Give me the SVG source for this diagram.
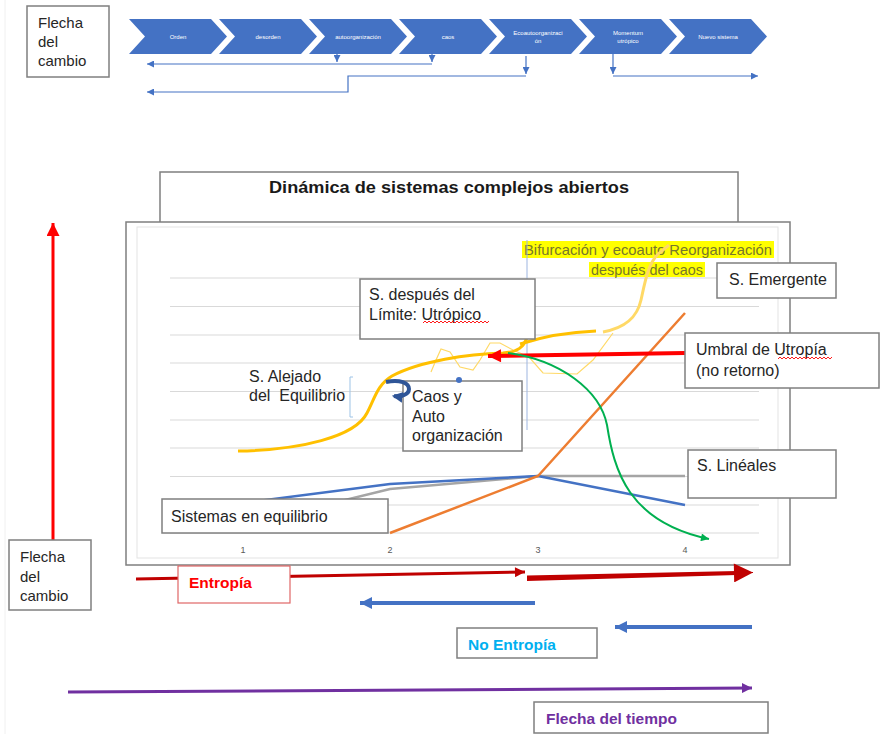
<svg xmlns="http://www.w3.org/2000/svg" width="884" height="734" viewBox="0 0 884 734">
<style>
text{font-family:"Liberation Sans",Arial,sans-serif;fill:#262626}
.box{fill:#fff;stroke:#7f7f7f;stroke-width:1.5}
.chev{fill:#4472C4}
.ct{font-size:6px;fill:#fff;text-anchor:middle}
.lbl{font-size:16px}
.grid{stroke:#d9d9d9;stroke-width:1}
.ax{font-size:9px;fill:#595959;text-anchor:middle}
.tcon{fill:none;stroke:#4472C4;stroke-width:1.2}
.wavy{fill:none;stroke:#FF0000;stroke-width:0.9}
.bt{font-size:15.5px;font-weight:bold}
</style>
<defs>
<marker id="mTop" viewBox="0 0 10 10" refX="10" refY="5" markerWidth="8" markerHeight="7" markerUnits="userSpaceOnUse" orient="auto"><path d="M0,0L10,5L0,10Z" fill="#4472C4"/></marker>
<marker id="mRed" viewBox="0 0 10 10" refX="10" refY="5" markerWidth="14" markerHeight="13" markerUnits="userSpaceOnUse" orient="auto"><path d="M0,0L10,5L0,10Z" fill="#FF0000"/></marker>
<marker id="mDred" viewBox="0 0 10 10" refX="10" refY="5" markerWidth="12" markerHeight="10" markerUnits="userSpaceOnUse" orient="auto"><path d="M0,0L10,5L0,10Z" fill="#C00000"/></marker>
<marker id="mDredBig" viewBox="0 0 10 10" refX="10" refY="5" markerWidth="20" markerHeight="19" markerUnits="userSpaceOnUse" orient="auto"><path d="M0,0L10,5L0,10Z" fill="#C00000"/></marker>
<marker id="mBlue" viewBox="0 0 10 10" refX="10" refY="5" markerWidth="14" markerHeight="12" markerUnits="userSpaceOnUse" orient="auto"><path d="M0,0L10,5L0,10Z" fill="#4472C4"/></marker>
<marker id="mPurple" viewBox="0 0 10 10" refX="10" refY="5" markerWidth="12" markerHeight="10" markerUnits="userSpaceOnUse" orient="auto"><path d="M0,0L10,5L0,10Z" fill="#7030A0"/></marker>
<marker id="mGreen" viewBox="0 0 10 10" refX="10" refY="5" markerWidth="9" markerHeight="8" markerUnits="userSpaceOnUse" orient="auto"><path d="M0,0L10,5L0,10Z" fill="#00B050"/></marker>
<marker id="mNavy" viewBox="0 0 10 10" refX="8" refY="5" markerWidth="11" markerHeight="12" markerUnits="userSpaceOnUse" orient="auto"><path d="M0,0L10,5L0,10Z" fill="#2F5597"/></marker>
</defs>
<rect width="884" height="734" fill="#fff"/>
<line x1="5" y1="0" x2="5" y2="734" stroke="#f0f0f0" stroke-width="1"/>

<!-- top process chevrons -->
<g id="flecha-top"><rect class="box" x="27" y="6" width="82" height="71"/><text x="38" y="28" style="font-size:15px">Flecha</text><text x="38" y="47" style="font-size:15px">del</text><text x="38" y="66" style="font-size:15px">cambio</text></g>
<g id="chev-orden"><path class="chev" d="M129,19H211L227,36.5L211,54H129L145,36.5Z"/><text class="ct" x="178" y="39">Orden</text></g>
<g id="chev-desorden"><path class="chev" d="M219,19H301L317,36.5L301,54H219L235,36.5Z"/><text class="ct" x="268" y="39">desorden</text></g>
<g id="chev-autoorg"><path class="chev" d="M309,19H391L407,36.5L391,54H309L325,36.5Z"/><text class="ct" x="358" y="39">autoorganización</text></g>
<g id="chev-caos"><path class="chev" d="M399,19H481L497,36.5L481,54H399L415,36.5Z"/><text class="ct" x="448" y="39">caos</text></g>
<g id="chev-ecoauto"><path class="chev" d="M489,19H571L587,36.5L571,54H489L505,36.5Z"/><text class="ct" x="538" y="35">Ecoautoorganizaci</text><text class="ct" x="538" y="43">ón</text></g>
<g id="chev-momentum"><path class="chev" d="M579,19H661L677,36.5L661,54H579L595,36.5Z"/><text class="ct" x="628" y="35">Momentum</text><text class="ct" x="628" y="43">utrópico</text></g>
<g id="chev-nuevo"><path class="chev" d="M669,19H751L767,36.5L751,54H669L685,36.5Z"/><text class="ct" x="718" y="39">Nuevo sistema</text></g>

<g id="top-connectors">
<line class="tcon" x1="337" y1="54" x2="337" y2="62" marker-end="url(#mTop)"/>
<line class="tcon" x1="432" y1="54" x2="432" y2="62" marker-end="url(#mTop)"/>
<line class="tcon" x1="432" y1="64" x2="147" y2="64" marker-end="url(#mTop)"/>
<line class="tcon" x1="526" y1="56" x2="526" y2="74" marker-end="url(#mTop)"/>
<polyline class="tcon" points="526,76 348,76 348,92 147,92" marker-end="url(#mTop)"/>
<line class="tcon" x1="613" y1="54" x2="613" y2="74" marker-end="url(#mTop)"/>
<line class="tcon" x1="613" y1="76" x2="758" y2="76" marker-end="url(#mTop)"/>
</g>

<!-- chart -->
<g id="title"><rect class="box" x="160" y="172" width="578" height="60"/><text x="449" y="193" text-anchor="middle" textLength="360" lengthAdjust="spacingAndGlyphs" style="font-size:17px;font-weight:bold;fill:#1a1a1a">Dinámica de sistemas complejos abiertos</text></g>
<g id="chart-frame">
<rect x="126" y="222" width="664" height="343" fill="#fff" stroke="#7f7f7f" stroke-width="1.5"/>
<rect x="137" y="227" width="641" height="331" fill="none" stroke="#e3e3e3" stroke-width="1"/>
<g>
<line class="grid" x1="170" y1="278" x2="759" y2="278"/>
<line class="grid" x1="170" y1="306.5" x2="759" y2="306.5"/>
<line class="grid" x1="170" y1="335" x2="759" y2="335"/>
<line class="grid" x1="170" y1="363" x2="759" y2="363"/>
<line class="grid" x1="170" y1="391.5" x2="759" y2="391.5"/>
<line class="grid" x1="170" y1="420" x2="759" y2="420"/>
<line class="grid" x1="170" y1="448" x2="759" y2="448"/>
<line class="grid" x1="170" y1="476.5" x2="759" y2="476.5"/>
<line class="grid" x1="170" y1="505" x2="759" y2="505"/>
<line class="grid" x1="170" y1="533" x2="759" y2="533"/>
</g>
<text class="ax" x="243" y="553">1</text><text class="ax" x="390" y="553">2</text><text class="ax" x="538" y="553">3</text><text class="ax" x="685" y="553">4</text>
</g>

<g id="bifurcacion">
<rect x="522" y="241" width="252" height="17" fill="#FFFF00"/>
<rect x="589" y="262" width="116" height="15" fill="#FFFF00"/>
<text x="648" y="255" text-anchor="middle" textLength="248" lengthAdjust="spacingAndGlyphs" style="font-size:14.5px;fill:#77772a">Bifurcación y ecoauto Reorganización</text>
<text x="647" y="275" text-anchor="middle" textLength="112" lengthAdjust="spacingAndGlyphs" style="font-size:14.5px;fill:#77772a">después del caos</text>
</g>

<g id="series">
<polyline points="243,525 390,489 538,476 685,476" fill="none" stroke="#A5A5A5" stroke-width="2.5"/>
<polyline points="243,503 390,484 538,476 685,505" fill="none" stroke="#4472C4" stroke-width="2.5"/>
<polyline points="390,533 538,476 685,313" fill="none" stroke="#ED7D31" stroke-width="2.5"/>
<line x1="527" y1="240" x2="527" y2="430" stroke="#9DB5E0" stroke-width="1"/>
<path d="M353,377H350V417H353" fill="none" stroke="#9DC3E6" stroke-width="1"/>
<polyline points="431,372 436,360 441,349 450,352 460,367 473,370 480,360 490,343 500,343 513,350 529,357 543,373 577,374 593,360 613,333" fill="none" stroke="#FFD966" stroke-width="1.2"/>
<path d="M238,451C300,450 355,437 367,413C375,398 377,385 392,376C420,361 468,354 503,353C518,352 524,347 527,337" fill="none" stroke="#FFC000" stroke-width="3"/>
<path d="M520,344C545,336 570,332 596,331" fill="none" stroke="#FFC000" stroke-width="3"/>
<path d="M603,332C625,328 637,318 641,300C645,282 648,264 658,254L669,245" fill="none" stroke="#FFD966" stroke-width="3"/>
</g>

<g id="s-despues"><rect class="box" x="360" y="279" width="175" height="60"/><text class="lbl" x="369" y="300">S. después del</text><text class="lbl" x="369" y="320">Límite: Utrópico</text><path class="wavy" d="M423,323l2,-2l2,2l2,-2l2,2l2,-2l2,2l2,-2l2,2l2,-2l2,2l2,-2l2,2l2,-2l2,2l2,-2l2,2l2,-2l2,2l2,-2l2,2l2,-2l2,2l2,-2l2,2l2,-2l2,2l2,-2l2,2l2,-2l2,2l2,-2l2,2l2,-2"/></g>

<g id="connectors">
<line x1="685" y1="353" x2="488" y2="356" stroke="#FF0000" stroke-width="4" marker-end="url(#mRed)"/>
<path d="M508,353C560,360 600,390 607,425C614,470 628,522 709,539" fill="none" stroke="#00B050" stroke-width="2" marker-end="url(#mGreen)"/>
<line x1="53" y1="540" x2="53" y2="223" stroke="#FF0000" stroke-width="3" marker-end="url(#mRed)"/>
<line x1="136" y1="579" x2="525" y2="572" stroke="#C00000" stroke-width="3" marker-end="url(#mDred)"/>
<path d="M527,575.5L737,571L737,575L527,581Z" fill="#C00000"/>
<line x1="730" y1="573" x2="753" y2="572.5" stroke="#C00000" stroke-width="1" marker-end="url(#mDredBig)"/>
<line x1="535" y1="603" x2="360" y2="603" stroke="#4472C4" stroke-width="4" marker-end="url(#mBlue)"/>
<line x1="752" y1="627" x2="615" y2="627" stroke="#4472C4" stroke-width="4" marker-end="url(#mBlue)"/>
<line x1="68" y1="692" x2="752" y2="688" stroke="#7030A0" stroke-width="3" marker-end="url(#mPurple)"/>
</g>

<g id="s-emergente"><rect class="box" x="717" y="263" width="119" height="35"/><text class="lbl" x="729" y="285">S. Emergente</text></g>
<g id="umbral"><rect class="box" x="685" y="333" width="194" height="55"/><text class="lbl" x="696" y="355">Umbral de Utropía</text><text class="lbl" x="696" y="376">(no retorno)</text><path class="wavy" d="M778,359l2,-2l2,2l2,-2l2,2l2,-2l2,2l2,-2l2,2l2,-2l2,2l2,-2l2,2l2,-2l2,2l2,-2l2,2l2,-2l2,2l2,-2l2,2l2,-2l2,2l2,-2l2,2l2,-2l2,2l2,-2"/></g>
<g id="s-alejado"><text class="lbl" x="249" y="382">S. Alejado</text><text class="lbl" x="249" y="401">del&#160; Equilibrio</text></g>
<g id="caos"><rect class="box" x="403" y="381" width="119" height="70"/><circle cx="459" cy="380" r="3" fill="#4472C4"/><text class="lbl" x="412" y="402">Caos y</text><text class="lbl" x="412" y="422">Auto</text><text class="lbl" x="412" y="441">organización</text></g>
<g id="s-lineales"><rect class="box" x="688" y="450" width="148" height="48"/><text class="lbl" x="697" y="471">S. Linéales</text></g>
<g id="sistemas-equilibrio"><rect class="box" x="162" y="499" width="226" height="34"/><text class="lbl" x="171" y="522">Sistemas en equilibrio</text></g>

<g id="connector-hook">
<path d="M386,382C400,379 409,383 409,389C409,395 400,397 394,396" fill="none" stroke="#2F5597" stroke-width="4" marker-end="url(#mNavy)"/>
</g>

<g id="flecha-cambio"><rect class="box" x="9" y="540" width="82" height="70"/><text x="20" y="562" style="font-size:15px">Flecha</text><text x="20" y="582" style="font-size:15px">del</text><text x="20" y="601" style="font-size:15px">cambio</text></g>
<g id="entropia"><rect x="178" y="566" width="112" height="37" fill="#fff" stroke="#E06666" stroke-width="1.2"/><text class="bt" x="189" y="588" style="fill:#FF0000">Entropía</text></g>
<g id="no-entropia"><rect class="box" x="457" y="628" width="140" height="30"/><text class="bt" x="468" y="650" style="fill:#00B0F0">No Entropía</text></g>
<g id="flecha-tiempo"><rect class="box" x="534" y="702" width="234" height="31"/><text class="bt" x="546" y="724" style="fill:#7030A0">Flecha del tiempo</text></g>
</svg>
